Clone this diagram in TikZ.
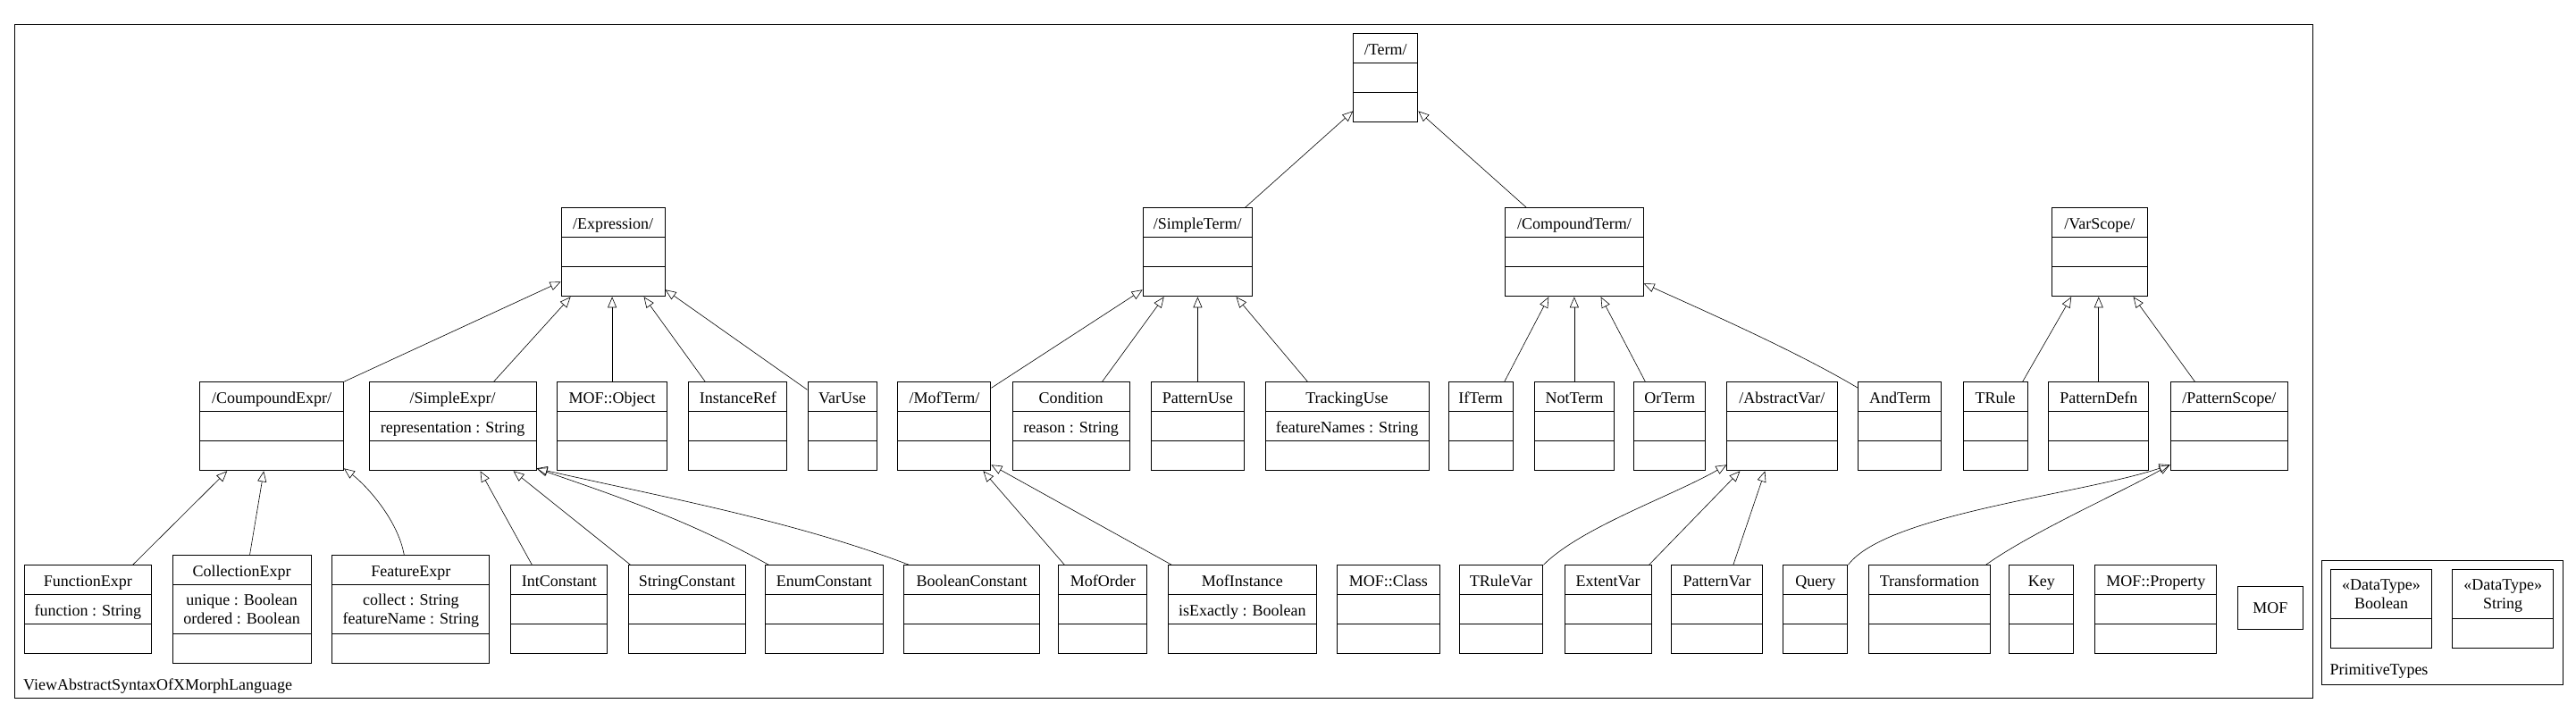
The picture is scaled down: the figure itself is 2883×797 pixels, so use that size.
\documentclass[tikz,border=0pt]{standalone}
\usepackage{fontspec}
\setmainfont{Liberation Serif}
\usepackage{tikz}
\usetikzlibrary{arrows.meta,shapes.multipart}

\newcommand{\umlfont}{\fontsize{18}{21}\selectfont}
\newcommand{\clsstrut}{\umlfont\rule[-9pt]{0pt}{32pt}}
\newcommand{\twol}[2]{\umlfont\begin{tabular}[b]{@{}c@{}}\rule{0pt}{22pt}#1\\#2\rule[-11pt]{0pt}{11pt}\end{tabular}}
\newcommand{\clsbody}[2]{\clsstrut#1\nodepart{two}\clsstrut#2\nodepart{three}\clsstrut}

\tikzset{
	umlclass/.style={draw, line width=1pt, rectangle split, rectangle split parts=3, inner xsep=0pt, inner ysep=0pt, anchor=north west, font=\umlfont},
	umltype/.style={umlclass, rectangle split parts=2},
	umlpkg/.style={draw, line width=1pt, anchor=north west, inner sep=0pt},
	pkgname/.style={anchor=base west, inner sep=0pt, font=\umlfont},
	inherit/.style={-{Triangle[open,length=12pt,width=10pt]}, line width=0.6pt},
}

\begin{document}
\begin{tikzpicture}[x=1pt,y=-1pt]
			\useasboundingbox (0,0) rectangle (2883,797);
			\fill[white] (0,0) rectangle (2883,797);
			
			\node[umlpkg, minimum width=2571.5pt, minimum height=753.7pt] (view) at (16,27.3) {};
			\node[pkgname] (viewname) at (26,772) {ViewAbstractSyntaxOfXMorphLanguage};
			
			\node[umlclass, minimum width=72pt] (term) at (1514.3,37.3) {\clsbody{/Term/}{}};
			
			\node[umlclass, minimum width=116pt] (expr) at (627.6,232.3) {\clsbody{/Expression/}{}};
			\node[umlclass, minimum width=121.8pt] (sterm) at (1278.7,232.3) {\clsbody{/SimpleTerm/}{}};
			\node[umlclass, minimum width=154.3pt] (cterm) at (1684.3,232.3) {\clsbody{/CompoundTerm/}{}};
			\node[umlclass, minimum width=106.4pt] (vscope) at (2296.2,232.3) {\clsbody{/VarScope/}{}};
			
			\node[umlclass, minimum width=160.7pt] (cexpr) at (223.2,427.3) {\clsbody{/CoumpoundExpr/}{}};
			\node[umlclass, minimum width=186.9pt] (sexpr) at (412.6,427.3) {\clsbody{/SimpleExpr/}{representation : String}};
			\node[umlclass, minimum width=123.2pt] (mofobj) at (623,427.3) {\clsbody{MOF::Object}{}};
			\node[umlclass, minimum width=109.9pt] (iref) at (770.3,427.3) {\clsbody{InstanceRef}{}};
			\node[umlclass, minimum width=77pt] (varuse) at (903.5,427.3) {\clsbody{VarUse}{}};
			\node[umlclass, minimum width=104pt] (mterm) at (1004.4,427.3) {\clsbody{/MofTerm/}{}};
			\node[umlclass, minimum width=130.8pt] (cond) at (1132.7,427.3) {\clsbody{Condition}{reason : String}};
			\node[umlclass, minimum width=104.8pt] (puse) at (1287.5,427.3) {\clsbody{PatternUse}{}};
			\node[umlclass, minimum width=183pt] (tuse) at (1415.5,427.3) {\clsbody{TrackingUse}{featureNames : String}};
			\node[umlclass, minimum width=72.2pt] (ifterm) at (1620.5,427.3) {\clsbody{IfTerm}{}};
			\node[umlclass, minimum width=89.5pt] (notterm) at (1716.6,427.3) {\clsbody{NotTerm}{}};
			\node[umlclass, minimum width=79.8pt] (orterm) at (1828.4,427.3) {\clsbody{OrTerm}{}};
			\node[umlclass, minimum width=123.1pt] (avar) at (1932.4,427.3) {\clsbody{/AbstractVar/}{}};
			\node[umlclass, minimum width=92.9pt] (andterm) at (2079.4,427.3) {\clsbody{AndTerm}{}};
			\node[umlclass, minimum width=72.1pt] (trule) at (2196.5,427.3) {\clsbody{TRule}{}};
			\node[umlclass, minimum width=112.1pt] (pdefn) at (2292.2,427.3) {\clsbody{PatternDefn}{}};
			\node[umlclass, minimum width=131.8pt] (pscope) at (2428.5,427.3) {\clsbody{/PatternScope/}{}};
			
			\node[umlclass, minimum width=141.4pt] (fexpr) at (27.2,632.3) {\clsbody{FunctionExpr}{function : String}};
			\node[umlclass, minimum width=155.2pt] (colexpr) at (192.5,621.3) {\clsstrut CollectionExpr\nodepart{two}\twol{unique : Boolean}{ordered : Boolean}\nodepart{three}\clsstrut};
			\node[umlclass, minimum width=176.1pt] (featexpr) at (371.3,621.3) {\clsstrut FeatureExpr\nodepart{two}\twol{collect : String}{featureName : String}\nodepart{three}\clsstrut};
			\node[umlclass, minimum width=107.8pt] (intc) at (571.4,632.3) {\clsbody{IntConstant}{}};
			\node[umlclass, minimum width=131.4pt] (strc) at (702.6,632.3) {\clsbody{StringConstant}{}};
			\node[umlclass, minimum width=131.1pt] (enumc) at (856.4,632.3) {\clsbody{EnumConstant}{}};
			\node[umlclass, minimum width=151.2pt] (boolc) at (1011.4,632.3) {\clsbody{BooleanConstant}{}};
			\node[umlclass, minimum width=99pt] (morder) at (1184.4,632.3) {\clsbody{MofOrder}{}};
			\node[umlclass, minimum width=165.3pt] (minst) at (1307.3,632.3) {\clsbody{MofInstance}{isExactly : Boolean}};
			\node[umlclass, minimum width=114.2pt] (mofclass) at (1496.3,632.3) {\clsbody{MOF::Class}{}};
			\node[umlclass, minimum width=93.9pt] (trvar) at (1632.5,632.3) {\clsbody{TRuleVar}{}};
			\node[umlclass, minimum width=97pt] (evar) at (1750.5,632.3) {\clsbody{ExtentVar}{}};
			\node[umlclass, minimum width=101.4pt] (pvar) at (1870.4,632.3) {\clsbody{PatternVar}{}};
			\node[umlclass, minimum width=72.1pt] (query) at (1995.3,632.3) {\clsbody{Query}{}};
			\node[umlclass, minimum width=135.1pt] (transf) at (2091.4,632.3) {\clsbody{Transformation}{}};
			\node[umlclass, minimum width=72.1pt] (key) at (2248.3,632.3) {\clsbody{Key}{}};
			\node[umlclass, minimum width=136.2pt] (mofprop) at (2344.2,632.3) {\clsbody{MOF::Property}{}};
			\node[umlpkg, minimum width=72.2pt, minimum height=48pt, font=\umlfont] (mof) at (2504.3,656.3) {MOF};
			
			\node[umlpkg, minimum width=269.3pt, minimum height=138.4pt] (prim) at (2598.3,627.3) {};
			\node[pkgname] (primname) at (2607.5,755) {PrimitiveTypes};
			\node[umltype, minimum width=112.4pt] (booldt) at (2608.3,637.3) {\twol{«DataType»}{Boolean}\nodepart{two}\clsstrut};
			\node[umltype, minimum width=112.4pt] (strdt) at (2744.4,637.3) {\twol{«DataType»}{String}\nodepart{two}\clsstrut};
			
			\draw[inherit] ([xshift=-8pt]sterm.north east) -- ([yshift=13pt]term.south west);
			\draw[inherit] ([xshift=24pt]cterm.north west) -- ([yshift=13pt]term.south east);
			
			\draw[inherit] (cexpr.north east) -- ([yshift=17pt]expr.south west);
			\draw[inherit] ([xshift=-48pt]sexpr.north east) -- ([xshift=11pt]expr.south west);
			\draw[inherit] (mofobj.north) -- (mofobj.north |- expr.south);
			\draw[inherit] ([xshift=19pt]iref.north west) -- ([xshift=-24pt]expr.south east);
			\draw[inherit] ([yshift=-9pt]varuse.north west) -- ([yshift=8pt]expr.south east);
			
			\draw[inherit] ([yshift=-7pt]mterm.north east) -- ([yshift=8pt]sterm.south west);
			\draw[inherit] ([xshift=-31pt]cond.north east) -- ([xshift=24pt]sterm.south west);
			\draw[inherit] (puse.north) -- (puse.north |- sterm.south);
			\draw[inherit] ([xshift=48pt]tuse.north west) -- ([xshift=-18pt]sterm.south east);
			
			\draw[inherit] ([xshift=-10pt]ifterm.north east) -- ([xshift=49pt]cterm.south west);
			\draw[inherit] (notterm.north) -- (notterm.north |- cterm.south);
			\draw[inherit] ([xshift=13pt]orterm.north west) -- ([xshift=-48pt]cterm.south east);
			\draw[inherit] ([yshift=-7pt]andterm.north west) .. controls +(-69pt,41pt) and +(73pt,-33pt) .. ([yshift=15pt]cterm.south east);
			
			\draw[inherit] ([xshift=-6pt]trule.north east) -- ([xshift=22pt]vscope.south west);
			\draw[inherit] (pdefn.north) -- (pdefn.north |- vscope.south);
			\draw[inherit] ([xshift=28pt]pscope.north west) -- ([xshift=-16pt]vscope.south east);
			
			\draw[inherit] ([xshift=-21pt]fexpr.north east) -- ([xshift=31pt]cexpr.south west);
			\draw[inherit] ([xshift=87pt]colexpr.north west) -- ([xshift=72pt]cexpr.south west);
			\draw[inherit] ([xshift=81pt]featexpr.north west) .. controls +(-7pt,40pt) and +(24pt,-18pt) .. ([yshift=3pt]cexpr.south east);
			
			\draw[inherit] ([xshift=24pt]intc.north west) -- ([xshift=-63pt]sexpr.south east);
			\draw[inherit] ([xshift=3pt]strc.north west) -- ([xshift=-26pt]sexpr.south east);
			\draw[inherit] ([xshift=4pt]enumc.north west) .. controls +(-90pt,50pt) and +(95pt,-33pt) .. ([yshift=3pt]sexpr.south east);
			\draw[inherit] ([xshift=6pt]boolc.north west) .. controls +(-131pt,50pt) and +(136pt,-31pt) .. ([yshift=3pt]sexpr.south east);
			
			\draw[inherit] ([xshift=7pt]morder.north west) -- ([xshift=-9pt]mterm.south east);
			\draw[inherit] ([xshift=4pt]minst.north west) -- ([yshift=7pt]mterm.south east);
			
			\draw[inherit] (trvar.north east) .. controls +(42pt,42pt) and +(-61pt,-35pt) .. ([yshift=7pt]avar.south west);
			\draw[inherit] ([xshift=-3pt]evar.north east) -- ([xshift=15pt]avar.south west);
			\draw[inherit] ([xshift=-33pt]pvar.north east) -- ([xshift=43pt]avar.south west);
			
			\draw[inherit] (query.north east) .. controls +(43pt,57pt) and +(-98pt,-33pt) .. ([yshift=7pt]pscope.south west);
			\draw[inherit] ([xshift=-5pt]transf.north east) .. controls +(50pt,36pt) and +(-55pt,-31pt) .. ([yshift=7pt]pscope.south west);
		\end{tikzpicture}
\end{document}
